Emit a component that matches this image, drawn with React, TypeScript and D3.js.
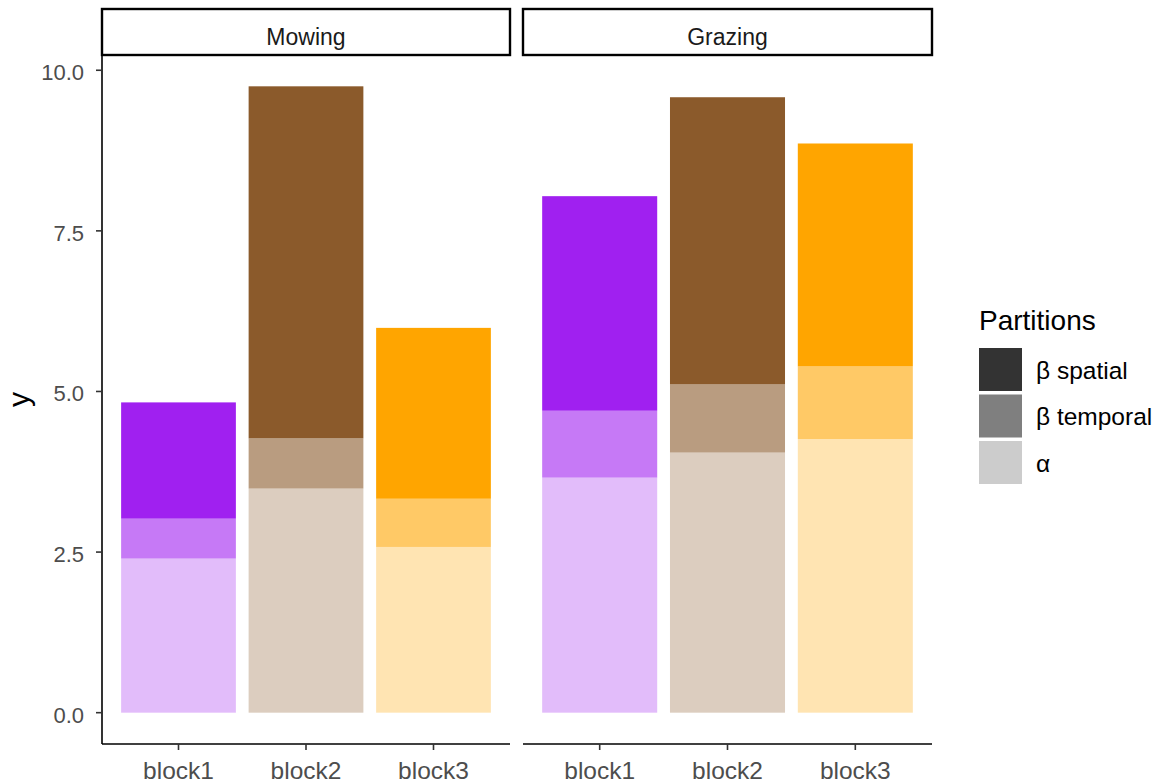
import React from "react";
import * as d3 from "d3";

const treatments = ["Mowing", "Grazing"];
const blocks = ["block1", "block2", "block3"];
const blockColors = ["#A020F0", "#8B5A2B", "#FFA500"];
// stack order from bottom to top
const partitionKeys = ["alpha", "betaTemporal", "betaSpatial"];
const partitionOpacity = [0.3, 0.6, 1];
const legendLabels = ["β spatial", "β temporal", "α"];
const legendColors = ["#333333", "#7F7F7F", "#CCCCCC"];

// segment heights per treatment, per block
const alphaValues = [
  [2.4, 3.49, 2.58],
  [3.66, 4.05, 4.26],
];
const betaTemporalValues = [
  [0.62, 0.78, 0.75],
  [1.04, 1.06, 1.13],
];
const betaSpatialValues = [
  [1.81, 5.48, 2.66],
  [3.34, 4.47, 3.47],
];
const yTicks = [0, 2.5, 5, 7.5, 10];

const W = 1160;
const H = 783;
const panelTop = 55;
const panelBottom = 744;
const panelX = [
  [102, 510],
  [523, 932],
];
const stripTop = 9;
const font = "'Liberation Sans', Arial, sans-serif";

export default function App() {
  const rows = treatments.map((t, ti) =>
    blocks.map((b, bi) => ({
      block: b,
      bi,
      alpha: alphaValues[ti][bi],
      betaTemporal: betaTemporalValues[ti][bi],
      betaSpatial: betaSpatialValues[ti][bi],
    }))
  );
  const stacker = d3.stack<any>().keys(partitionKeys);
  const stacked = rows.map((r) => stacker(r));
  const maxTotal = d3.max(rows.flat(), (d: any) => d.alpha + d.betaTemporal + d.betaSpatial) as number;
  const y = d3
    .scaleLinear()
    .domain([-0.05 * maxTotal, maxTotal * 1.05])
    .range([panelBottom, panelTop]);

  return (
    <svg width={W} height={H} style={{ position: "absolute", left: 0, top: 0, background: "#fff" }} fontFamily={font}>
      <rect x={0} y={0} width={W} height={H} fill="#fff" />
      {treatments.map((t, ti) => {
        const [x0, x1] = panelX[ti];
        const x = d3.scaleBand().domain(blocks).range([x0, x1]).paddingInner(0.1).paddingOuter(0.15);
        return (
          <g key={t}>
            {stacked[ti].map((layer, li) =>
              layer.map((seg: any, bi: number) => (
                <rect
                  key={`${li}-${bi}`}
                  x={x(blocks[bi])}
                  width={x.bandwidth()}
                  y={y(seg[1])}
                  height={y(seg[0]) - y(seg[1])}
                  fill={blockColors[bi]}
                  fillOpacity={partitionOpacity[li]}
                />
              ))
            )}
            {/* strip */}
            <rect x={x0} y={stripTop} width={x1 - x0} height={panelTop - stripTop} fill="#fff" stroke="#000" strokeWidth={2.4} />
            <text x={(x0 + x1) / 2} y={45} textAnchor="middle" fontSize={23} fill="#1A1A1A">
              {t}
            </text>
            {/* x axis */}
            <line x1={x0} x2={x1} y1={panelBottom} y2={panelBottom} stroke="#000" strokeWidth={1.6} />
            {blocks.map((b) => {
              const cx = (x(b) as number) + x.bandwidth() / 2;
              return (
                <g key={b}>
                  <line x1={cx} x2={cx} y1={panelBottom} y2={panelBottom + 6} stroke="#333" strokeWidth={1.6} />
                  <text x={cx} y={779} textAnchor="middle" fontSize={24.5} fill="#4D4D4D">
                    {b}
                  </text>
                </g>
              );
            })}
          </g>
        );
      })}
      {/* y axis */}
      <line x1={panelX[0][0]} x2={panelX[0][0]} y1={panelTop} y2={panelBottom} stroke="#000" strokeWidth={1.6} />
      {yTicks.map((v) => (
        <g key={v}>
          <line x1={panelX[0][0] - 6} x2={panelX[0][0]} y1={y(v)} y2={y(v)} stroke="#333" strokeWidth={1.6} />
          <text x={panelX[0][0] - 18} y={y(v)} dy="0.45em" textAnchor="end" fontSize={22} fill="#4D4D4D">
            {d3.format(".1f")(v)}
          </text>
        </g>
      ))}
      <text
        transform={`translate(29,${(panelTop + panelBottom) / 2}) rotate(-90)`}
        textAnchor="middle"
        fontSize={30}
        fill="#000"
      >
        y
      </text>
      {/* legend */}
      <text x={979} y={330} fontSize={28} fill="#000">
        Partitions
      </text>
      {legendLabels.map((l, i) => (
        <g key={l}>
          <rect x={979} y={348 + i * 46.5} width={43} height={43} fill={legendColors[i]} />
          <text x={1036} y={348 + i * 46.5 + 21.5} dy="0.38em" fontSize={24.5} fill="#000">
            {l}
          </text>
        </g>
      ))}
    </svg>
  );
}
